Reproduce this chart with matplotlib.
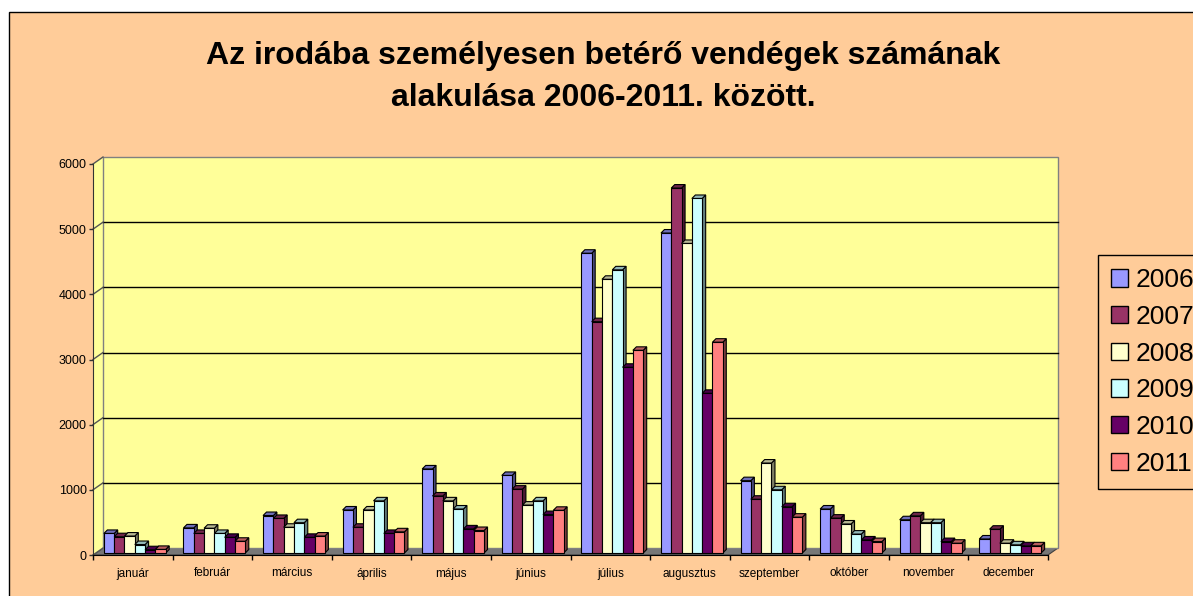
import numpy as np
import matplotlib
matplotlib.use('Agg')
import matplotlib.pyplot as plt
from matplotlib.patches import Polygon, Rectangle, Patch
from matplotlib.colors import to_rgb

plt.rcParams['font.family'] = ['Liberation Sans', 'DejaVu Sans']

# Data
months = ['január', 'február', 'március', 'április', 'május', 'június',
          'július', 'augusztus', 'szeptember', 'október', 'november', 'december']
years = ['2006', '2007', '2008', '2009', '2010', '2011']

v2006 = [300, 385, 575, 660, 1290, 1190, 4600, 4910, 1110, 675, 510, 215]
v2007 = [250, 300, 530, 395, 875, 980, 3550, 5600, 825, 535, 570, 365]
v2008 = [260, 380, 395, 660, 800, 735, 4200, 4750, 1380, 445, 465, 150]
v2009 = [130, 300, 465, 800, 675, 800, 4345, 5440, 970, 290, 465, 125]
v2010 = [50, 240, 240, 300, 370, 590, 2850, 2450, 710, 200, 175, 110]
v2011 = [55, 180, 260, 325, 345, 655, 3110, 3235, 550, 175, 150, 110]
series = [v2006, v2007, v2008, v2009, v2010, v2011]

colors = ['#9999FF', '#993366', '#FFFFCC', '#CCFFFF', '#660066', '#FF8080']
yticks = [0, 1000, 2000, 3000, 4000, 5000, 6000]

W, H = 1193, 596
fig = plt.figure(figsize=(W / 100, H / 100), dpi=100, facecolor='white')

# chart area (peach) with black border, cut off at right / bottom
fig.add_artist(Rectangle((9 / W, -0.05), 1.2, 1 - 12 / H + 0.05, transform=fig.transFigure,
                         facecolor='#FFCC99', edgecolor='black', lw=1, zorder=-10))

# front plane of the 3D box
left_px, right_px, bot_px, top_px = 93, 1048, 555, 164
ax = fig.add_axes([left_px / W, (H - bot_px) / H, (right_px - left_px) / W, (bot_px - top_px) / H])
ax.set_xlim(-0.5, 11.5)
ax.set_ylim(0, 6000)
ax.patch.set_visible(False)

sx = (right_px - left_px) / 12.0        # px per category
sy = (bot_px - top_px) / 6000.0         # px per unit


def off(dx_px, dy_px):
    return dx_px / sx, dy_px / sy


bdx, bdy = off(10, 7)      # back wall offset
fdx, fdy = off(2, 2)       # bar plane offset
ddx, ddy = off(3.5, 3.5)   # bar depth

x0, x1 = -0.5, 11.5
# floor
ax.add_patch(Polygon([(x0, 0), (x1, 0), (x1 + bdx, bdy), (x0 + bdx, bdy)],
                     closed=True, facecolor='#777777', edgecolor='#404040', lw=0.8,
                     clip_on=False, zorder=0))
# side wall
ax.add_patch(Polygon([(x0, 0), (x0, 6000), (x0 + bdx, 6000 + bdy), (x0 + bdx, bdy)],
                     closed=True, facecolor='#FFFF99', edgecolor='none',
                     clip_on=False, zorder=0))
# back wall
ax.add_patch(Rectangle((x0 + bdx, bdy), x1 - x0, 6000, facecolor='#FFFF99',
                       edgecolor='#808080', lw=1, clip_on=False, zorder=0.5))
# gridlines
for v in yticks:
    if 0 < v < 6000:
        ax.plot([x0 + bdx, x1 + bdx], [v + bdy, v + bdy], color='black', lw=1,
                clip_on=False, zorder=0.8)
    ax.plot([x0, x0 + bdx], [v, v + bdy], color='#555555', lw=1, clip_on=False, zorder=0.8)

# 3D bars
bw = 10.3 / sx
start = -3 * bw
z = 2
for i in range(len(months)):
    for j, vals in enumerate(series):
        v = vals[i]
        c = np.array(to_rgb(colors[j]))
        xl = i + start + j * bw + fdx
        yb = fdy
        side = [(xl + bw, yb), (xl + bw, yb + v), (xl + bw + ddx, yb + v + ddy), (xl + bw + ddx, yb + ddy)]
        top = [(xl, yb + v), (xl + bw, yb + v), (xl + bw + ddx, yb + v + ddy), (xl + ddx, yb + v + ddy)]
        ax.add_patch(Polygon(side, closed=True, facecolor=c * 0.5, edgecolor='black', lw=0.8,
                             clip_on=False, zorder=z))
        ax.add_patch(Polygon(top, closed=True, facecolor=c * 0.72, edgecolor='black', lw=0.8,
                             clip_on=False, zorder=z))
        ax.add_patch(Rectangle((xl, yb), bw, v, facecolor=c, edgecolor='black', lw=0.8,
                               clip_on=False, zorder=z + 0.01))
        z += 0.02

# axes
for s in ['top', 'right']:
    ax.spines[s].set_visible(False)
ax.spines['left'].set_color('#333333')
ax.spines['bottom'].set_color('black')
ax.set_yticks(yticks)
ax.set_yticklabels([str(t) for t in yticks], fontsize=9)
ax.tick_params(axis='y', length=3, width=1, color='#333333', pad=1.5)
ax.set_xticks(range(12))
ax.set_xticklabels(months, fontsize=8.5)
ax.tick_params(axis='x', which='major', length=0, pad=9)
ax.set_xticks(np.arange(-0.5, 12, 1), minor=True)
ax.tick_params(axis='x', which='minor', length=3.6, width=1, color='black')

fig.text(603.5 / W, 1 - 56 / H, 'Az irodába személyesen betérő vendégek számának',
         ha='center', va='center', fontsize=23, fontweight='bold')
fig.text(603.5 / W, 1 - 98 / H, 'alakulása 2006-2011. között.',
         ha='center', va='center', fontsize=23, fontweight='bold')

handles = [Patch(facecolor=c, edgecolor='black', lw=1) for c in colors]
leg = fig.legend(handles, years, loc='upper left', bbox_to_anchor=(1098 / W, 1 - 255 / H),
                 fontsize=19, frameon=True, fancybox=False, framealpha=1,
                 facecolor='#FFCC99', edgecolor='black', handlelength=0.64, handleheight=0.64,
                 handletextpad=0.3, labelspacing=0.48, borderpad=0.5, borderaxespad=0)
leg.get_frame().set_linewidth(1)

fig.savefig('out.png', dpi=100, facecolor='white')
